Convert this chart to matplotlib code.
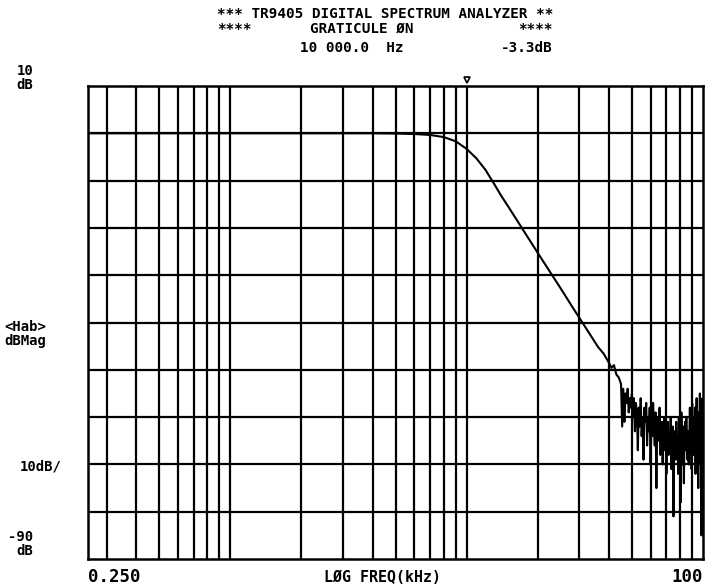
import numpy as np
import matplotlib
matplotlib.use("Agg")
import matplotlib.pyplot as plt

# smooth part of the response
freq_khz = [0.25, 0.5, 1, 2, 3, 4, 5, 6, 7, 8, 9, 10, 11, 12, 13, 14, 15,
            16, 18, 20, 22, 25, 28, 32, 36, 38, 40, 41, 42, 43, 44]
mag_db = [0, 0, 0, 0, 0, 0, -0.05, -0.15, -0.35, -0.8, -1.7, -3.3, -5.3, -7.7,
          -10.5, -13.2, -15.5, -17.7, -21.7, -25.3, -28.5, -32.8, -36.7,
          -41.2, -45.2, -46.6, -48.5, -49.6, -49.0, -51.0, -51.6]

# noisy tail, 45..100 kHz in 0.5 kHz bins
noise_start = 45.0
noise_step = 0.5
noise_db = [-53, -62, -54, -61, -55, -57, -54, -59, -56, -58, -55,
            -60, -56, -63, -57, -59, -67, -58, -62, -56, -64, -60, -69,
            -58, -61, -57, -66, -60, -63, -58, -70, -61, -64, -57, -62,
            -66, -59, -75, -62, -60, -65, -58, -68, -63, -61, -70, -64,
            -60, -67, -62, -72, -65, -61, -68, -63, -66, -60, -71, -64,
            -62, -81, -66, -63, -69, -61, -67, -64, -72, -60, -65, -63,
            -78, -59, -66, -70, -62, -74, -64, -61, -67, -60, -65, -69,
            -63, -70, -65, -58, -66, -62, -71, -57, -64, -68, -60, -66,
            -58, -72, -63, -56, -67, -60, -75, -59, -64, -55, -70, -62,
            -85, -60, -56, -66]

grid_freqs = [0.3, 0.4, 0.5, 0.6, 0.7, 0.8, 0.9, 1, 2, 3, 4, 5, 6, 7, 8, 9,
              10, 20, 30, 40, 50, 60, 70, 80, 90]
grid_db = [0, -10, -20, -30, -40, -50, -60, -70, -80]
marker_khz = 10.0

noise_f = noise_start + noise_step * np.arange(len(noise_db))
f_all = np.concatenate([freq_khz, noise_f])
m_all = np.concatenate([mag_db, noise_db])

mono = "DejaVu Sans Mono"
fig = plt.figure(figsize=(7.06, 5.86), dpi=100)
ax = fig.add_axes([88 / 706, 1 - 559 / 586, 615 / 706, 473 / 586])

ax.set_xscale("log")
ax.set_xlim(0.25, 100)
ax.set_ylim(-90, 10)

for g in grid_freqs:
    ax.axvline(g, color="black", lw=1.6, zorder=1)
for g in grid_db:
    ax.axhline(g, color="black", lw=1.6, zorder=1)

ax.plot(f_all, m_all, color="black", lw=1.5, zorder=3)

# marker above the 10 kHz line
ax.plot([marker_khz], [11.2], marker="v", ms=5, mfc="white", mec="black",
        mew=1.2, clip_on=False, zorder=4)

ax.set_xticks([])
ax.set_yticks([])
ax.minorticks_off()
for s in ax.spines.values():
    s.set_linewidth(1.8)

def t(x, y, s, ha="left", fs=10.3, ls=1.2):
    fig.text(x / 706, 1 - y / 586, s, ha=ha, va="center", family=mono,
             fontsize=fs, color="black", linespacing=ls, multialignment=ha,
             fontweight="bold")

t(385, 14, "*** TR9405 DIGITAL SPECTRUM ANALYZER **", ha="center")
t(217, 29, "****")
t(310, 29, "GRATICULE ØN")
t(553, 29, "****", ha="right")
t(300, 48, "10 000.0  Hz")
t(553, 48, "-3.3dB", ha="right")

t(33, 78, "10\ndB", ha="right", fs=10, ls=0.95)
t(4, 334, "<Hab>\ndBMag", fs=10, ls=0.95)
t(62, 466, "10dB/", ha="right", fs=10)
t(33, 544, "-90\ndB", ha="right", fs=10, ls=0.95)

t(88, 577, "0.250", fs=12.5)
t(383, 577, "LØG FREQ(kHz)", ha="center", fs=10.8)
t(703, 577, "100", ha="right", fs=12.5)

fig.savefig("out.png", dpi=100)
